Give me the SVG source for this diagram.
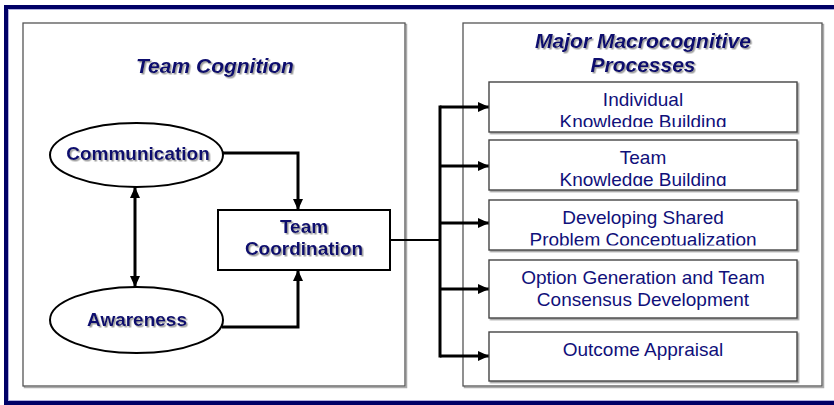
<svg xmlns="http://www.w3.org/2000/svg" width="834" height="405" viewBox="0 0 834 405">
<style>
.frame{fill:none;stroke:#000066;stroke-width:4}
.frame2{fill:none;stroke:#b0b0dd;stroke-width:1}
.panel{fill:#fff;stroke:#555;stroke-width:1.3}
.pshadow{fill:none;stroke:#aaa;stroke-width:1.5}
.pbox{fill:#fff;stroke:#444;stroke-width:1.4}
.node{fill:#fff;stroke:#000;stroke-width:2}
.title{font-family:"Liberation Sans",Arial,sans-serif;font-weight:bold;font-style:italic;font-size:21px;fill:#0a0a6e;text-anchor:middle}
.ntext{font-family:"Liberation Sans",Arial,sans-serif;font-weight:bold;font-size:19px;fill:#0a0a6e;text-anchor:middle}
.ptext{font-family:"Liberation Sans",Arial,sans-serif;font-size:19px;fill:#10107a;text-anchor:middle}
.conn{fill:none;stroke:#000;stroke-width:3}
.conn2{fill:none;stroke:#000;stroke-width:2.2}
</style>
<defs>
<filter id="sh" x="-10%" y="-20%" width="130%" height="160%">
<feDropShadow dx="1.5" dy="1.5" stdDeviation="0.6" flood-color="#888" flood-opacity="0.8"/>
</filter>
<marker id="ah" markerUnits="userSpaceOnUse" markerWidth="12" markerHeight="12" refX="11" refY="5" orient="auto-start-reverse" viewBox="0 0 12 10">
<path d="M0,0 L11,5 L0,10 Z" fill="#000"/>
</marker>
<clipPath id="c1"><rect x="489" y="82" width="308" height="45"/></clipPath>
<clipPath id="c2"><rect x="489" y="140" width="308" height="46"/></clipPath>
<clipPath id="c3"><rect x="489" y="200" width="308" height="45.5"/></clipPath>
</defs>
<rect width="834" height="405" fill="#fff"/>
<rect class="frame" x="6" y="7" width="840" height="396"/>
<rect class="frame2" x="8.5" y="9.5" width="840" height="391"/>

<g id="panel-left">
<rect class="pshadow" x="24.5" y="24.5" width="382" height="363"/>
<rect class="panel" x="23" y="23" width="382" height="363"/>
<text class="title" x="215" y="73" filter="url(#sh)">Team Cognition</text>
</g>
<g id="panel-right">
<rect class="pshadow" x="464.5" y="24.5" width="359" height="363"/>
<rect class="panel" x="463" y="23" width="359" height="363"/>
<text class="title" x="643" y="48" filter="url(#sh)">Major Macrocognitive</text>
<text class="title" x="643" y="72" filter="url(#sh)">Processes</text>
</g>

<g id="connectors">
<path class="conn" d="M223,153 H298 V210" marker-end="url(#ah)"/>
<path class="conn" d="M222,327 H298 V270" marker-end="url(#ah)"/>
<path class="conn" d="M135,187 V287" marker-start="url(#ah)" marker-end="url(#ah)"/>
<path class="conn2" d="M390,240 H440"/>
<path class="conn" d="M440,105.5 V357.5"/>
<path class="conn" d="M440,107 H489" marker-end="url(#ah)"/>
<path class="conn" d="M440,166 H489" marker-end="url(#ah)"/>
<path class="conn" d="M440,223 H489" marker-end="url(#ah)"/>
<path class="conn" d="M440,289 H489" marker-end="url(#ah)"/>
<path class="conn" d="M440,356 H489" marker-end="url(#ah)"/>
</g>

<g id="communication">
<ellipse class="node" cx="136.5" cy="155" rx="86.5" ry="32"/>
<text class="ntext" x="138" y="160" filter="url(#sh)">Communication</text>
</g>
<g id="awareness">
<ellipse class="node" cx="136.5" cy="320" rx="86.5" ry="33"/>
<text class="ntext" x="137" y="326" filter="url(#sh)">Awareness</text>
</g>
<g id="team-coordination">
<rect class="node" x="218" y="210" width="172" height="60"/>
<text class="ntext" x="304" y="233" filter="url(#sh)">Team</text>
<text class="ntext" x="304" y="255" filter="url(#sh)">Coordination</text>
</g>

<g id="p1">
<rect class="pbox" x="489" y="82" width="308" height="50" filter="url(#sh)"/>
<g clip-path="url(#c1)">
<text class="ptext" x="643" y="106">Individual</text>
<text class="ptext" x="643" y="128">Knowledge Building</text>
</g>
</g>
<g id="p2">
<rect class="pbox" x="489" y="140" width="308" height="50" filter="url(#sh)"/>
<g clip-path="url(#c2)">
<text class="ptext" x="643" y="164">Team</text>
<text class="ptext" x="643" y="186">Knowledge Building</text>
</g>
</g>
<g id="p3">
<rect class="pbox" x="489" y="200" width="308" height="50" filter="url(#sh)"/>
<g clip-path="url(#c3)">
<text class="ptext" x="643" y="224">Developing Shared</text>
<text class="ptext" x="643" y="246">Problem Conceptualization</text>
</g>
</g>
<g id="p4">
<rect class="pbox" x="489" y="260" width="308" height="58" filter="url(#sh)"/>
<text class="ptext" x="643" y="284">Option Generation and Team</text>
<text class="ptext" x="643" y="306">Consensus Development</text>
</g>
<g id="p5">
<rect class="pbox" x="489" y="332" width="308" height="49" filter="url(#sh)"/>
<text class="ptext" x="643" y="356">Outcome Appraisal</text>
</g>
</svg>
